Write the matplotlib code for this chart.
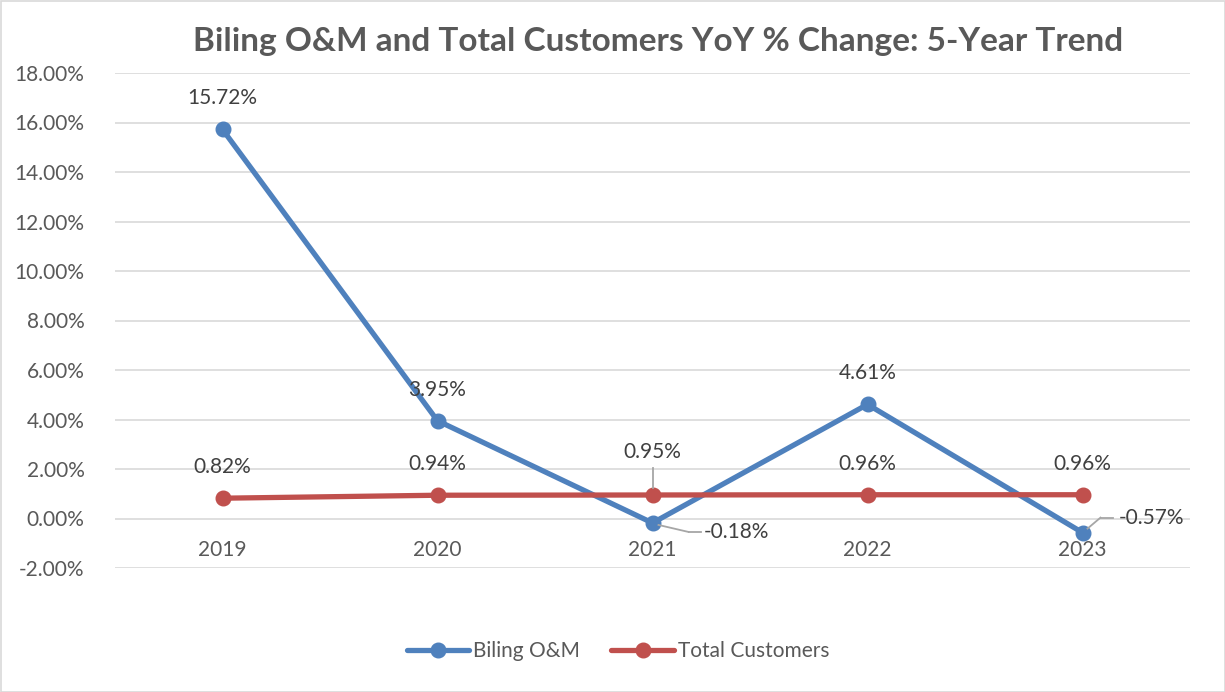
import matplotlib
matplotlib.use("Agg")
import matplotlib.pyplot as plt
from matplotlib.patches import Rectangle
from matplotlib.lines import Line2D
from matplotlib.ticker import FuncFormatter, MultipleLocator

years = ["2019", "2020", "2021", "2022", "2023"]
billing = [15.72, 3.95, -0.18, 4.61, -0.57]
customers = [0.82, 0.94, 0.95, 0.96, 0.96]

BLUE = "#4F81BD"
RED = "#C0504D"
TXT = "#595959"
GRID = "#D9D9D9"
LEAD = "#A6A6A6"
FONT = "Lato"
FS = 15

plt.rcParams["font.family"] = [FONT, "DejaVu Sans"]

fig = plt.figure(figsize=(12.25, 6.92), dpi=100)
ax = fig.add_axes([115/1225, 1-568/692, 1075/1225, 495/692])
x = list(range(len(years)))

ax.plot(x, billing, color=BLUE, lw=3.8, marker="o", ms=10.5, solid_capstyle="round", label="Biling O&M", zorder=3)
ax.plot(x, customers, color=RED, lw=3.8, marker="o", ms=10.5, solid_capstyle="round", label="Total Customers", zorder=3)

ax.set_xlim(-0.5, 4.5)
ax.set_ylim(-2, 18)
ax.yaxis.set_major_locator(MultipleLocator(2))
ax.yaxis.set_major_formatter(FuncFormatter(lambda v, p: f"{v:.2f}%"))
ax.grid(axis="y", color=GRID, lw=1.2)
ax.set_axisbelow(True)
for s in ax.spines.values():
    s.set_visible(False)
ax.tick_params(axis="y", length=0, pad=22, labelsize=FS, labelcolor=TXT)
ax.set_xticks([])

for xi, yr in zip(x, years):
    ax.annotate(yr, (xi, 0), xytext=(0, -31), textcoords="offset pixels",
                ha="center", va="center", fontsize=FS, color=TXT)

lab = dict(fontsize=FS, color="#404040", va="center")
for xi, v in zip(x, billing):
    if v >= 0:
        ax.annotate(f"{v:.2f}%", (xi, v), xytext=(0, 31), textcoords="offset pixels", ha="center", **lab)

fig.canvas.draw()

def seg(xi, v, p1, p2):
    d = ax.transData.transform((xi, v))
    fig.lines.append(Line2D([d[0]+p1[0], d[0]+p2[0]], [d[1]+p1[1], d[1]+p2[1]], transform=None,
                            color=LEAD, lw=1.3, zorder=4))

seg(2, billing[2], (6, -2), (36, -9))
seg(2, billing[2], (36, -9), (48, -9))
ax.annotate(f"{billing[2]:.2f}%", (2, billing[2]), xytext=(51, -9), textcoords="offset pixels", ha="left", **lab)
seg(4, billing[4], (5, 4), (18, 15))
seg(4, billing[4], (18, 15), (30, 15))
ax.annotate(f"{billing[4]:.2f}%", (4, billing[4]), xytext=(36, 15), textcoords="offset pixels", ha="left", **lab)

for xi, v in zip(x, customers):
    dy = 43 if xi == 2 else 31
    ax.annotate(f"{v:.2f}%", (xi, v), xytext=(0, dy), textcoords="offset pixels", ha="center", **lab)
seg(2, customers[2], (0, 7), (0, 27))

fig.text(658/1225, 1-42/692, "Biling O&M and Total Customers YoY % Change: 5-Year Trend",
         ha="center", va="center", fontsize=24, fontweight="bold", color=TXT)

leg = fig.legend(loc="center", bbox_to_anchor=(618/1225, 1-651/692), ncol=2, frameon=False,
                 fontsize=FS, handlelength=3.0, columnspacing=1.5, handletextpad=0.2)
for t in leg.get_texts():
    t.set_color(TXT)

fig.patches.append(Rectangle((0.5/1225, 0.5/692), 1-1/1225, 1-1/692, transform=fig.transFigure,
                             fill=False, edgecolor=GRID, lw=1.2))

fig.savefig("out.png", dpi=100)
